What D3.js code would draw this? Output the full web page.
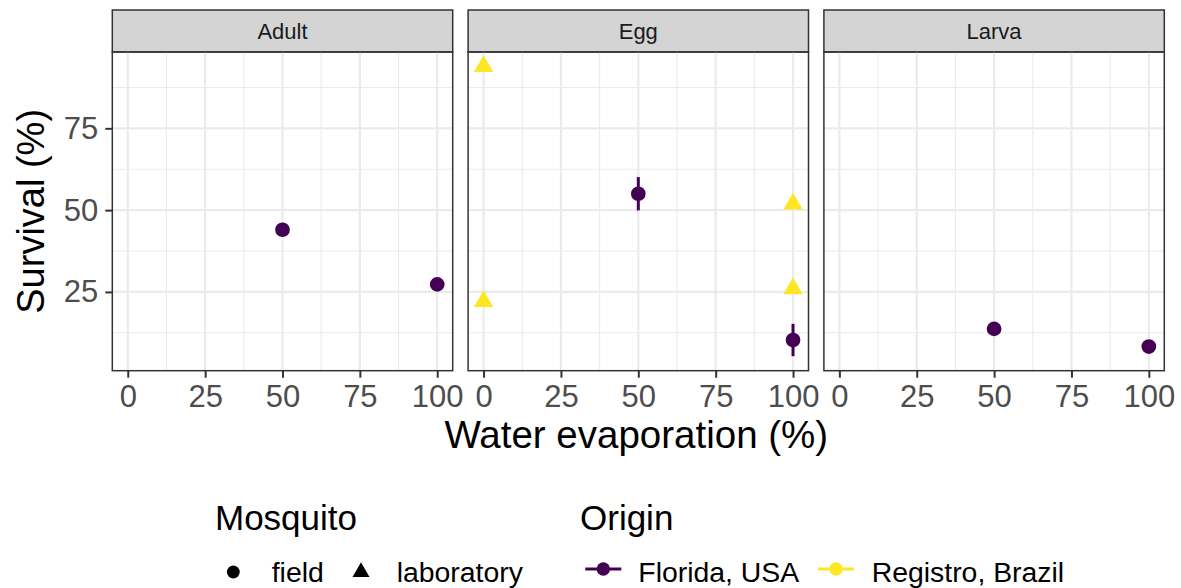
<!DOCTYPE html>
<html>
<head>
<meta charset="utf-8">
<script src="https://cdn.jsdelivr.net/npm/d3@7"></script>
<style>
body { margin: 0; background: #fff; }
text { font-family: "Liberation Sans", Arial, Helvetica, sans-serif; }
</style>
</head>
<body>
<div id="chart-area"></div>
<script>
// data
var stages = ["Adult", "Egg", "Larva"];
var xTicks = [0, 25, 50, 75, 100];
var yTicks = [25, 50, 75];

var stage       = ["Adult", "Adult", "Egg", "Egg", "Egg", "Egg", "Egg", "Egg", "Larva", "Larva"];
var evaporation = [50, 100, 0, 0, 50, 100, 100, 100, 50, 100];
var survival    = [44.0, 27.3, 93.9, 22.1, 55.0, 51.9, 26.0, 10.3, 13.7, 8.3];
var stdErr      = [0, 0, 0, 0, 5.1, 0, 0, 4.95, 0, 0];
var mosquito    = ["field", "field", "laboratory", "laboratory", "field", "laboratory", "laboratory", "field", "field", "field"];
var origin      = ["Florida, USA", "Florida, USA", "Registro, Brazil", "Registro, Brazil", "Florida, USA",
                   "Registro, Brazil", "Registro, Brazil", "Florida, USA", "Florida, USA", "Florida, USA"];

var mosquitoTypes = ["field", "laboratory"];
var origins = ["Florida, USA", "Registro, Brazil"];
var originColors = ["#440154", "#FDE725"];

var data = stage.map(function(s, i) {
	return { stage: s, x: evaporation[i], y: survival[i], se: stdErr[i], mosquito: mosquito[i], origin: origin[i] };
});

var width = 1181, height = 588;
var panelLeft = 112.3, panelW = 340.4, panelGap = 15.4;
var stripTop = 10, stripH = 42;
var plotTop = stripTop + stripH, plotBottom = 370.7;
var plotH = plotBottom - plotTop;

var color = d3.scaleOrdinal().domain(origins).range(originColors);
var shape = d3.scaleOrdinal().domain(mosquitoTypes).range([d3.symbolCircle, d3.symbolTriangle]);
var shapeSize = d3.scaleOrdinal().domain(mosquitoTypes).range([170, 165]);

// ggplot-like 5% expansion
var xExt = d3.extent(data, function(d) { return d.x; });
var xPad = (xExt[1] - xExt[0]) * 0.05;
var x = d3.scaleLinear().domain([xExt[0] - xPad, xExt[1] + xPad]).range([0, panelW]);

var yLo = d3.min(data, function(d) { return d.y - d.se; });
var yHi = d3.max(data, function(d) { return d.y + d.se; });
var yPad = (yHi - yLo) * 0.05;
var y = d3.scaleLinear().domain([yLo - yPad, yHi + yPad]).range([plotH, 0]);

function minors(ticks, scale) {
	var out = [];
	var step = ticks[1] - ticks[0];
	var all = [ticks[0] - step].concat(ticks).concat([ticks[ticks.length - 1] + step]);
	for (var i = 0; i < all.length - 1; i++) {
		var m = (all[i] + all[i + 1]) / 2;
		var dm = scale.domain();
		if (m >= dm[0] && m <= dm[1]) out.push(m);
	}
	return out;
}

var svg = d3.select("#chart-area").append("svg")
	.attr("width", width)
	.attr("height", height);

svg.append("rect").attr("width", width).attr("height", height).attr("fill", "#fff");

stages.forEach(function(st, i) {
	var left = panelLeft + i * (panelW + panelGap);

	// strip
	var strip = svg.append("g").attr("transform", "translate(" + left + "," + stripTop + ")");
	strip.append("rect")
		.attr("width", panelW).attr("height", stripH)
		.attr("fill", "#D4D4D4").attr("stroke", "#333333").attr("stroke-width", 1.5);
	strip.append("text")
		.attr("x", panelW / 2).attr("y", stripH / 2)
		.attr("dy", "0.35em")
		.attr("text-anchor", "middle")
		.attr("font-size", "22px")
		.attr("fill", "#1A1A1A")
		.text(st);

	var g = svg.append("g").attr("transform", "translate(" + left + "," + plotTop + ")");

	// grid
	g.selectAll(".xminor").data(minors(xTicks, x)).enter().append("line")
		.attr("x1", function(d) { return x(d); }).attr("x2", function(d) { return x(d); })
		.attr("y1", 0).attr("y2", plotH)
		.attr("stroke", "#EBEBEB").attr("stroke-width", 1.1);
	g.selectAll(".yminor").data(minors(yTicks, y)).enter().append("line")
		.attr("y1", function(d) { return y(d); }).attr("y2", function(d) { return y(d); })
		.attr("x1", 0).attr("x2", panelW)
		.attr("stroke", "#EBEBEB").attr("stroke-width", 1.1);
	g.selectAll(".xmajor").data(xTicks).enter().append("line")
		.attr("x1", function(d) { return x(d); }).attr("x2", function(d) { return x(d); })
		.attr("y1", 0).attr("y2", plotH)
		.attr("stroke", "#EBEBEB").attr("stroke-width", 2.2);
	g.selectAll(".ymajor").data(yTicks).enter().append("line")
		.attr("y1", function(d) { return y(d); }).attr("y2", function(d) { return y(d); })
		.attr("x1", 0).attr("x2", panelW)
		.attr("stroke", "#EBEBEB").attr("stroke-width", 2.2);

	var sub = data.filter(function(d) { return d.stage === st; });

	// error bars
	g.selectAll(".err").data(sub.filter(function(d) { return d.se > 0; })).enter().append("line")
		.attr("x1", function(d) { return x(d.x); }).attr("x2", function(d) { return x(d.x); })
		.attr("y1", function(d) { return y(d.y - d.se); }).attr("y2", function(d) { return y(d.y + d.se); })
		.attr("stroke", function(d) { return color(d.origin); })
		.attr("stroke-width", 3);

	// points
	g.selectAll(".pt").data(sub).enter().append("path")
		.attr("transform", function(d) { return "translate(" + x(d.x) + "," + y(d.y) + ")"; })
		.attr("d", function(d) { return d3.symbol().type(shape(d.mosquito)).size(shapeSize(d.mosquito))(); })
		.attr("fill", function(d) { return color(d.origin); });

	// border
	g.append("rect")
		.attr("width", panelW).attr("height", plotH)
		.attr("fill", "none").attr("stroke", "#333333").attr("stroke-width", 1.5);

	// axes
	var xAxisGroup = g.append("g").attr("transform", "translate(0," + plotH + ")")
		.call(d3.axisBottom(x).tickValues(xTicks).tickSize(7).tickPadding(7));
	xAxisGroup.select(".domain").remove();
	xAxisGroup.selectAll("line").attr("stroke", "#333333").attr("stroke-width", 2);
	xAxisGroup.selectAll("text").attr("font-size", "31px").attr("fill", "#4D4D4D")
		.attr("font-family", "'Liberation Sans', Arial, sans-serif");

	if (i === 0) {
		var yAxisGroup = g.append("g")
			.call(d3.axisLeft(y).tickValues(yTicks).tickSize(7).tickPadding(7));
		yAxisGroup.select(".domain").remove();
		yAxisGroup.selectAll("line").attr("stroke", "#333333").attr("stroke-width", 2);
		yAxisGroup.selectAll("text").attr("font-size", "31px").attr("fill", "#4D4D4D")
			.attr("font-family", "'Liberation Sans', Arial, sans-serif");
	}
});

var panelsRight = panelLeft + 3 * panelW + 2 * panelGap;

svg.append("text")
	.attr("x", (panelLeft + panelsRight) / 2 - 2)
	.attr("y", 448)
	.attr("text-anchor", "middle")
	.attr("font-size", "38.5px")
	.attr("fill", "#000")
	.text("Water evaporation (%)");

svg.append("text")
	.attr("transform", "rotate(-90)")
	.attr("x", -(plotTop + plotBottom) / 2)
	.attr("y", 44)
	.attr("text-anchor", "middle")
	.attr("font-size", "38px")
	.attr("fill", "#000")
	.text("Survival (%)");

// legends
var keyY = 572;
var leg1 = svg.append("g");
leg1.append("text").attr("x", 215).attr("y", 530).attr("font-size", "35px").text("Mosquito");
var shapeKeyX = [233.3, 361];
var shapeTextX = [271.7, 396.7];
mosquitoTypes.forEach(function(m, i) {
	leg1.append("path")
		.attr("transform", "translate(" + shapeKeyX[i] + "," + keyY + ")")
		.attr("d", d3.symbol().type(shape(m)).size(i === 0 ? 130 : 125)())
		.attr("fill", "#000");
	leg1.append("text").attr("x", shapeTextX[i]).attr("y", 582).attr("font-size", "28.4px").text(m);
});

var leg2 = svg.append("g");
leg2.append("text").attr("x", 580).attr("y", 530).attr("font-size", "35px").text("Origin");
var colKeyX = [603.3, 836];
var colTextX = [638.3, 871.7];
origins.forEach(function(o, i) {
	leg2.append("line")
		.attr("x1", colKeyX[i] - 18).attr("x2", colKeyX[i] + 18)
		.attr("y1", keyY - 3).attr("y2", keyY - 3)
		.attr("stroke", color(o)).attr("stroke-width", 3);
	leg2.append("circle")
		.attr("cx", colKeyX[i]).attr("cy", keyY - 3).attr("r", 6.7)
		.attr("fill", color(o));
	leg2.append("text").attr("x", colTextX[i]).attr("y", 582).attr("font-size", "28.4px").text(o);
});
</script>
</body>
</html>
